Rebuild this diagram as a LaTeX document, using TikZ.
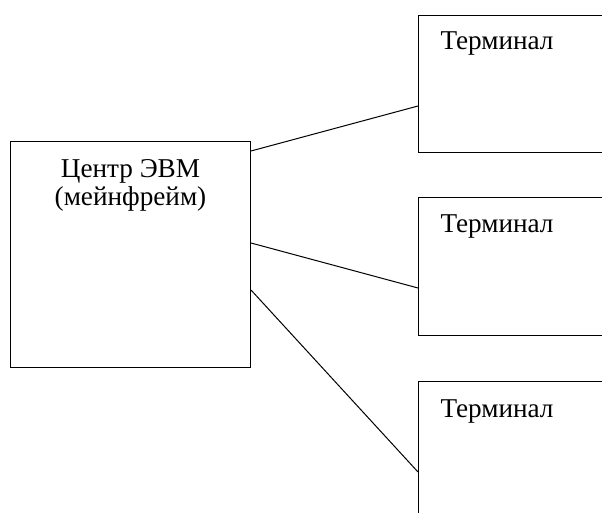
\documentclass[tikz,border=0pt]{standalone}
\usepackage{fontspec}
\setmainfont{Liberation Serif}
\usepackage{tikz}

\begin{document}
\begin{tikzpicture}
  [x=1pt,y=-1pt,line width=1pt,
   every node/.style={inner sep=0pt,font=\rmfamily\fontsize{27.2}{28}\selectfont},
   box/.style={draw,anchor=north west}]
  \useasboundingbox (0,0) rectangle (602,513);
  \clip (0,0) rectangle (602,513);

  \node[box,minimum width=240pt,minimum height=226pt] (main) at (10,141) {};
  \node[box,minimum width=220pt,minimum height=137pt] (t1) at (418,15) {};
  \node[box,minimum width=220pt,minimum height=138pt] (t2) at (418,197) {};
  \node[box,minimum width=220pt,minimum height=200pt] (t3) at (418,381) {};

  % base anchor of a two-line node sits on its last line
  \node[anchor=base,align=center] (mtext) at ([yshift=-64pt]main.north) {Центр ЭВМ\\(мейнфрейм)};
  \node[anchor=base west] (t1text) at ([shift={(22pt,-35pt)}]t1.north west) {Терминал};
  \node[anchor=base west] (t2text) at ([shift={(22pt,-36pt)}]t2.north west) {Терминал};
  \node[anchor=base west] (t3text) at ([shift={(22pt,-36pt)}]t3.north west) {Терминал};

  \coordinate (m1) at ([yshift=-10pt]main.north east);
  \coordinate (m2) at ([yshift=-102pt]main.north east);
  \coordinate (m3) at ([yshift=-149pt]main.north east);
  \foreach \t in {t1,t2,t3}
    \coordinate (\t in) at ([yshift=-91pt]\t.north west);

  \foreach \from/\to in {m1/t1in,m2/t2in,m3/t3in}
    \draw (\from) -- (\to);

\end{tikzpicture}
\end{document}
